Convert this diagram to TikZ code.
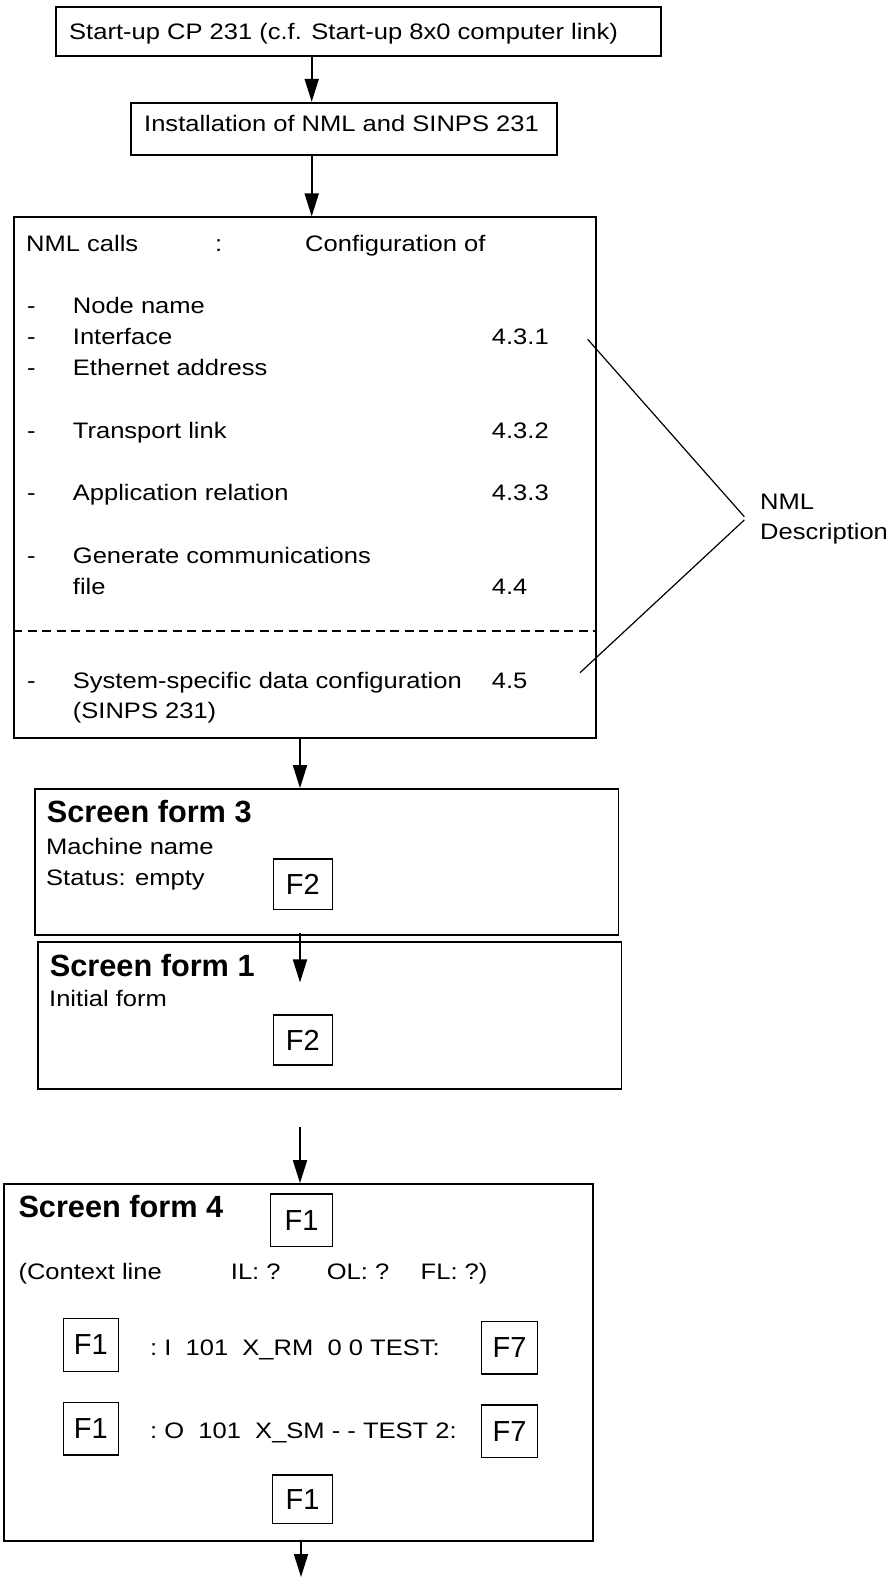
\documentclass[tikz,border=0pt]{standalone}
\usepackage{fontspec}
\setmainfont{Liberation Sans}[FakeStretch=1.14]
\newfontfamily\keyfont{Liberation Sans}
\usetikzlibrary{arrows.meta,calc}

\begin{document}
\begin{tikzpicture}[x=1pt,y=-1pt,
  frame/.style={draw, line width=1.7pt, inner sep=0pt, anchor=center},
  keybox/.style={draw, line width=1.4pt, inner sep=0pt, anchor=center,
    font=\keyfont\fontsize{29}{29}\selectfont},
  txt/.style={anchor=base west, inner sep=0pt, font=\fontsize{22.4}{26}\selectfont},
  head/.style={anchor=base west, inner sep=0pt,
    font=\keyfont\bfseries\fontsize{30.7}{34}\selectfont},
  flow/.style={line width=1.8pt, -{Triangle[width=14pt,length=23pt]}},
  lead/.style={line width=1.2pt},
  sep/.style={line width=1.5pt, dash pattern=on 9pt off 5.5pt}]

\fill[white] (0,0) rectangle (892,1577);
\useasboundingbox (0,0) rectangle (892,1577);

% --- frames of the flow ---
\node[frame, minimum width=605pt, minimum height=49.3pt] (b1) at (358.2,31.35) {};
\node[frame, minimum width=426.3pt, minimum height=52.3pt] (b2) at (343.85,128.85) {};
\node[frame, minimum width=581.4pt, minimum height=520.4pt] (nml) at (305,477.5) {};
\node[frame, minimum width=583.5pt, minimum height=146pt] (sf3) at (326.75,862) {};
\node[frame, minimum width=583.2pt, minimum height=146.4pt] (sf1) at (329.9,1015.5) {};
\node[frame, minimum width=588.7pt, minimum height=356.7pt] (sf4) at (298.35,1362.35) {};

% --- first two steps ---
\node[txt] (t1) at (69,39.3) {Start-up CP 231 (c.f. Start-up 8x0 computer link)};
\node[txt] (t2) at (144,131.7) {Installation of NML and SINPS 231};

% --- NML calls ---
\node[txt] (nh1) at (26,251.7) {NML calls};
\node[txt] (nh2) at (215,251.7) {:};
\node[txt] (nh3) at (305,251.7) {Configuration of};

\foreach \yy/\lab [count=\i] in {313.3/Node name, 344.5/Interface, 375/Ethernet address,
    438/Transport link, 500/Application relation, 563/Generate communications,
    688/System-specific data configuration}{
  \node[txt] (d\i) at (27,\yy) {-};
  \node[txt] (it\i) at (72.7,\yy) {\lab};
}
\node[txt] (it8) at (72.7,594) {file};
\node[txt] (it9) at (72.7,718) {(SINPS 231)};

\node[txt] (n1) at (491.7,344.5) {4.3.1};
\node[txt] (n2) at (491.7,438) {4.3.2};
\node[txt] (n3) at (491.7,500) {4.3.3};
\node[txt] (n4) at (491.7,594) {4.4};
\node[txt] (n5) at (491.7,688) {4.5};

\coordinate (dy) at (0,631);
\draw[sep] (nml.west |- dy) -- (nml.east |- dy);

% --- NML description bracket ---
\node[txt] (desc1) at (760,509) {NML};
\node[txt] (desc2) at (760,539) {Description};
\coordinate (la) at (587.7,339.3);
\coordinate (lb) at (580,672.7);
\coordinate (tipa) at (744.3,516.7);
\coordinate (tipb) at (744.3,520);
\draw[lead] (la) -- (tipa);
\draw[lead] (lb) -- (tipb);

% --- screen form 3 ---
\node[head] (s3h) at (46.7,822.7) {Screen form 3};
\node[txt] (s3a) at (46,854) {Machine name};
\node[txt] (s3b) at (46,885) {Status: empty};
\node[keybox, minimum width=59pt, minimum height=50.3pt] (k3) at (302.8,884.15) {F2};

% --- screen form 1 ---
\node[head] (s1h) at (49.7,976.7) {Screen form 1};
\node[txt] (s1a) at (49,1006.7) {Initial form};
\node[keybox, minimum width=59pt, minimum height=50pt] (k1) at (302.8,1040) {F2};

% --- screen form 4 ---
\node[head] (s4h) at (18.3,1217.3) {Screen form 4};
\node[keybox, minimum width=61.6pt, minimum height=52.7pt] (k4t) at (301.5,1220.35) {F1};
\node[txt] (c1) at (18.3,1279.3) {(Context line};
\node[txt] (c2) at (230.7,1279.3) {IL: ?};
\node[txt] (c3) at (326.6,1279.3) {OL: ?};
\node[txt] (c4) at (420.5,1279.3) {FL: ?)};
\node[keybox, minimum width=55pt, minimum height=53.4pt] (k4a) at (90.8,1345) {F1};
\node[txt] (r1) at (150,1355) {:~I~~101~~X\_RM~~0~0~TEST:};
\node[keybox, minimum width=55.6pt, minimum height=52.3pt] (k4b) at (509.5,1347.85) {F7};
\node[keybox, minimum width=55pt, minimum height=52.3pt] (k4c) at (90.8,1428.85) {F1};
\node[txt] (r2) at (150,1438.3) {:~O~~101~~X\_SM~- -~TEST~2:};
\node[keybox, minimum width=55.6pt, minimum height=52.3pt] (k4d) at (509.5,1431.15) {F7};
\node[keybox, minimum width=60pt, minimum height=48.3pt] (k4e) at (302.45,1499.15) {F1};

% --- connectors ---
\coordinate (ax) at (311.7,0);
\coordinate (bx) at (300,0);
\draw[flow] (b1.south -| ax) -- (b2.north -| ax);
\draw[flow] (b2.south -| ax) -- (nml.north -| ax);
\draw[flow] (nml.south -| bx) -- (sf3.north -| bx);
\draw[flow] ($(sf3.south -| bx)+(0,-3.3)$) -- ($(sf1.north -| bx)+(0,41)$);
\coordinate (in4) at (300,1127);
\draw[flow] (in4) -- (sf4.north -| in4);
\coordinate (out4) at (301,1577);
\draw[flow] (sf4.south -| out4) -- (out4);
\end{tikzpicture}
\end{document}
